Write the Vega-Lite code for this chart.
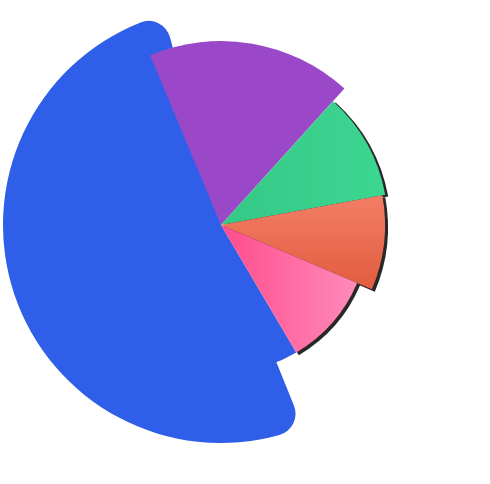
{
  "$schema": "https://vega.github.io/schema/vega-lite/v6.json",
  "width": 442,
  "height": 450,
  "padding": 0,
  "autosize": {"type": "none"},
  "background": "white",
  "view": {"stroke": null},
  "data": {
    "values": [
      {"order": 1, "name": "Purple", "value": 18.0, "r": 184},
      {"order": 2, "name": "Green", "value": 10.4, "r": 167},
      {"order": 3, "name": "Orange", "value": 9.3, "r": 164},
      {"order": 4, "name": "Pink", "value": 10.1, "r": 148},
      {"order": 5, "name": "Blue", "value": 52.2, "r": 218}
    ]
  },
  "transform": [
    {"stack": "value", "groupby": [], "sort": [{"field": "order"}], "as": ["t0", "t1"]}
  ],
  "encoding": {
    "theta": {"field": "t0", "type": "quantitative", "scale": {"domain": [0, 100], "range": [-0.3955, 5.8877]}},
    "theta2": {"field": "t1"},
    "radius": {"field": "r", "type": "quantitative", "scale": {"type": "linear", "domain": [0, 218], "range": [0, 218], "zero": true}}
  },
  "layer": [
    {
      "transform": [{"filter": "datum.name == 'Blue'"}],
      "mark": {"type": "arc", "color": "#2F5FE8", "cornerRadius": 22, "thetaOffset": 0.15, "theta2Offset": 0.13}
    },
    {
      "transform": [{"filter": "datum.name == 'Blue'"}],
      "mark": {"type": "arc", "color": "#2F5FE8", "radiusOffset": -70}
    },
    {
      "transform": [{"filter": "datum.order >= 2 && datum.order <= 4"}],
      "mark": {"type": "arc", "color": "#111111", "opacity": 0.9, "radiusOffset": 1, "xOffset": 2, "yOffset": 2}
    },
    {
      "transform": [{"filter": "datum.name == 'Purple'"}],
      "mark": {"type": "arc", "color": "#9B48C8"}
    },
    {
      "transform": [{"filter": "datum.name == 'Green'"}],
      "mark": {
        "type": "arc",
        "color": {"gradient": "linear", "x1": 0, "y1": 0, "x2": 1, "y2": 0, "stops": [{"offset": 0, "color": "#35C886"}, {"offset": 1, "color": "#3CD691"}]}
      }
    },
    {
      "transform": [{"filter": "datum.name == 'Orange'"}],
      "mark": {
        "type": "arc",
        "color": {"gradient": "linear", "x1": 0, "y1": 0, "x2": 0, "y2": 1, "stops": [{"offset": 0, "color": "#F27E66"}, {"offset": 1, "color": "#E25C3F"}]}
      }
    },
    {
      "transform": [{"filter": "datum.name == 'Pink'"}],
      "mark": {
        "type": "arc",
        "color": {"gradient": "linear", "x1": 0, "y1": 0, "x2": 1, "y2": 0, "stops": [{"offset": 0, "color": "#FF4C8C"}, {"offset": 1, "color": "#FF8ABA"}]}
      }
    }
  ]
}
